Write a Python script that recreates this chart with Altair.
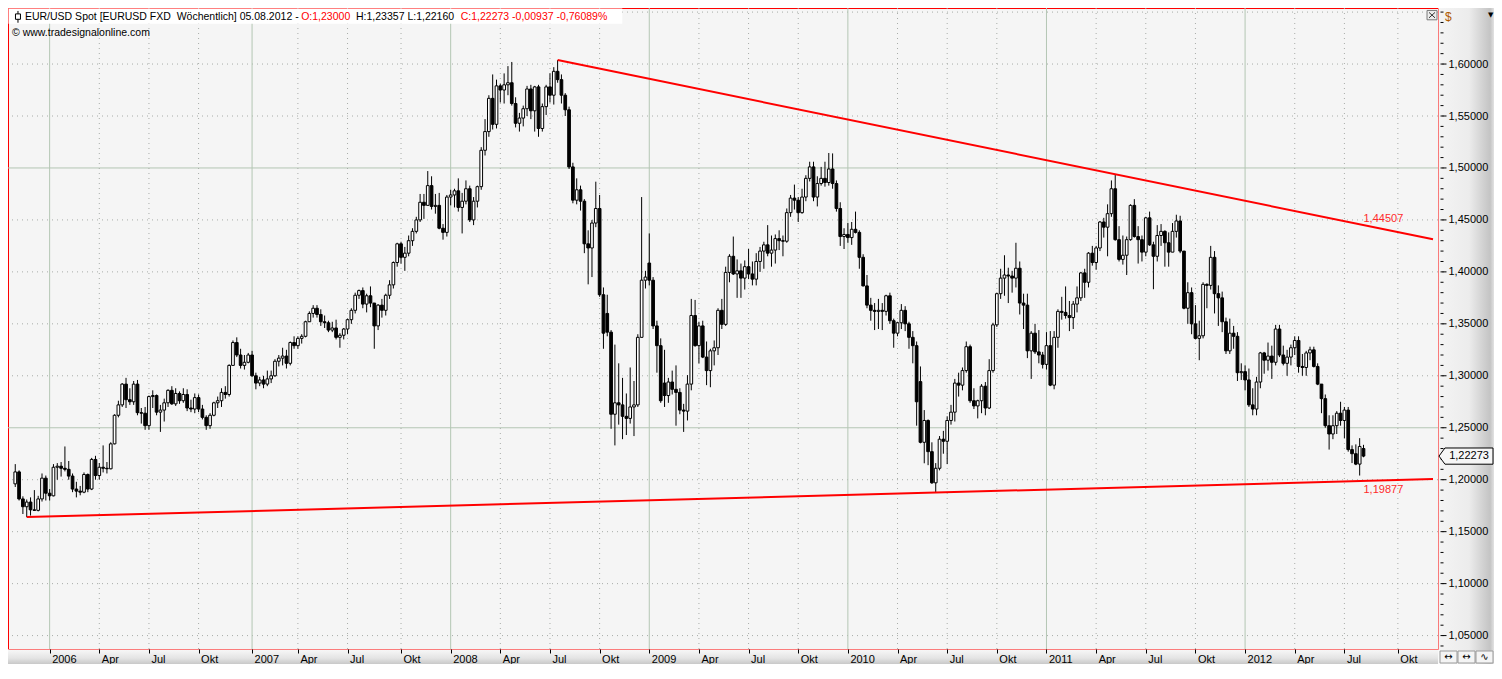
import altair as alt
import pandas as pd
import numpy as np

# ---------------- data (weekly EUR/USD bars, labelled by Sunday) ----------------
FIRST_BAR = "2005-10-30"
FIRST_OPEN = 1.1960

close_2005 = [1.2075, 1.1815, 1.1740, 1.1785, 1.1710, 1.1705, 1.1815, 1.2015, 1.1870]
high_2005 = [1.2150, 1.2090, 1.1840, 1.1810, 1.1830, 1.1900, 1.1845, 1.2060, 1.2040]
low_2005 = [1.1930, 1.1800, 1.1670, 1.1640, 1.1655, 1.1700, 1.1695, 1.1790, 1.1800]

close_2006 = [1.1845, 1.2120, 1.2130, 1.2110, 1.2100, 1.2035, 1.1910, 1.1890, 1.1880, 1.2050,
              1.1910, 1.2195, 1.2040, 1.2120, 1.2110, 1.2105, 1.2345, 1.2620, 1.2720, 1.2920,
              1.2770, 1.2750, 1.2920, 1.2645, 1.2640, 1.2520, 1.2800, 1.2810, 1.2650, 1.2670,
              1.2740, 1.2860, 1.2730, 1.2830, 1.2760, 1.2820, 1.2690, 1.2680, 1.2790, 1.2680,
              1.2600, 1.2520, 1.2620, 1.2740, 1.2760, 1.2840, 1.2820, 1.3100, 1.3320, 1.3200,
              1.3100, 1.3130, 1.3200]
high_2006 = [1.1910, 1.2150, 1.2160, 1.2170, 1.2320, 1.2180, 1.2060, 1.1980, 1.1940, 1.2070,
             1.2060, 1.2210, 1.2230, 1.2160, 1.2330, 1.2170, 1.2360, 1.2630, 1.2760, 1.2930,
             1.2980, 1.2880, 1.2950, 1.2960, 1.2690, 1.2700, 1.2810, 1.2860, 1.2820, 1.2720,
             1.2780, 1.2870, 1.2900, 1.2880, 1.2850, 1.2880, 1.2870, 1.2770, 1.2830, 1.2820,
             1.2720, 1.2620, 1.2640, 1.2750, 1.2800, 1.2880, 1.2900, 1.3110, 1.3340, 1.3370,
             1.3260, 1.3200, 1.3220]
low_2006 = [1.1800, 1.1840, 1.2000, 1.2030, 1.2080, 1.2000, 1.1880, 1.1830, 1.1850, 1.1870,
            1.1880, 1.1900, 1.2000, 1.2000, 1.2070, 1.2060, 1.2100, 1.2340, 1.2600, 1.2700,
            1.2690, 1.2720, 1.2720, 1.2620, 1.2540, 1.2480, 1.2480, 1.2690, 1.2620, 1.2460,
            1.2560, 1.2700, 1.2720, 1.2710, 1.2730, 1.2740, 1.2660, 1.2650, 1.2640, 1.2650,
            1.2580, 1.2480, 1.2490, 1.2610, 1.2690, 1.2700, 1.2780, 1.2800, 1.3100, 1.3180,
            1.3070, 1.3060, 1.3120]

close_2007 = [1.3000, 1.2930, 1.2960, 1.2920, 1.2970, 1.3000, 1.3140, 1.3170, 1.3190, 1.3120,
              1.3320, 1.3290, 1.3360, 1.3380, 1.3520, 1.3600, 1.3650, 1.3590, 1.3520, 1.3510,
              1.3440, 1.3460, 1.3370, 1.3390, 1.3450, 1.3540, 1.3630, 1.3775, 1.3820, 1.3690,
              1.3770, 1.3700, 1.3480, 1.3680, 1.3630, 1.3775, 1.3875, 1.4090, 1.4270, 1.4140,
              1.4180, 1.4300, 1.4390, 1.4500, 1.4670, 1.4640, 1.4830, 1.4630, 1.4640, 1.4420,
              1.4380, 1.4720]
high_2007 = [1.3240, 1.3030, 1.2990, 1.3000, 1.3050, 1.3050, 1.3160, 1.3200, 1.3270, 1.3250,
             1.3330, 1.3380, 1.3380, 1.3400, 1.3530, 1.3620, 1.3680, 1.3680, 1.3640, 1.3580,
             1.3530, 1.3520, 1.3540, 1.3410, 1.3460, 1.3550, 1.3650, 1.3800, 1.3830, 1.3850,
             1.3790, 1.3860, 1.3700, 1.3690, 1.3740, 1.3790, 1.3920, 1.4100, 1.4280, 1.4290,
             1.4240, 1.4350, 1.4420, 1.4530, 1.4750, 1.4750, 1.4970, 1.4920, 1.4750, 1.4760,
             1.4460, 1.4740]
low_2007 = [1.2990, 1.2870, 1.2900, 1.2880, 1.2900, 1.2930, 1.2990, 1.3090, 1.3100, 1.3070,
            1.3100, 1.3260, 1.3260, 1.3310, 1.3370, 1.3520, 1.3560, 1.3560, 1.3480, 1.3460,
            1.3420, 1.3420, 1.3350, 1.3270, 1.3350, 1.3400, 1.3500, 1.3600, 1.3740, 1.3650,
            1.3610, 1.3660, 1.3260, 1.3440, 1.3560, 1.3580, 1.3740, 1.3840, 1.4050, 1.4080,
            1.4010, 1.4150, 1.4250, 1.4370, 1.4480, 1.4510, 1.4640, 1.4600, 1.4560, 1.4410,
            1.4310, 1.4340]

close_2008 = [1.4740, 1.4780, 1.4620, 1.4680, 1.4800, 1.4500, 1.4680, 1.4820, 1.5170, 1.5350,
              1.5670, 1.5420, 1.5790, 1.5750, 1.5800, 1.5820, 1.5620, 1.5430, 1.5480, 1.5570,
              1.5760, 1.5550, 1.5780, 1.5380, 1.5590, 1.5780, 1.5700, 1.5930, 1.5850, 1.5700,
              1.5560, 1.5010, 1.4690, 1.4790, 1.4680, 1.4270, 1.4230, 1.4470, 1.4610, 1.3780,
              1.3410, 1.3420, 1.2630, 1.2740, 1.2720, 1.2610, 1.2590, 1.2700, 1.2720, 1.3370,
              1.3920, 1.3950]
high_2008 = [1.4790, 1.4800, 1.4900, 1.4760, 1.4880, 1.4830, 1.4720, 1.4830, 1.5200, 1.5470,
             1.5700, 1.5900, 1.5850, 1.5810, 1.5910, 1.5980, 1.6020, 1.5680, 1.5530, 1.5600,
             1.5790, 1.5800, 1.5790, 1.5800, 1.5620, 1.5800, 1.5910, 1.5970, 1.6038, 1.5900,
             1.5720, 1.5590, 1.5050, 1.4900, 1.4830, 1.4700, 1.4400, 1.4500, 1.4868, 1.4740,
             1.3850, 1.3780, 1.3440, 1.3300, 1.3120, 1.2980, 1.2830, 1.3080, 1.2950, 1.3400,
             1.4720, 1.4010]
low_2008 = [1.4640, 1.4620, 1.4580, 1.4370, 1.4650, 1.4480, 1.4450, 1.4620, 1.4790, 1.5120,
            1.5300, 1.5370, 1.5380, 1.5630, 1.5620, 1.5700, 1.5600, 1.5390, 1.5350, 1.5400,
            1.5500, 1.5470, 1.5350, 1.5300, 1.5350, 1.5510, 1.5630, 1.5610, 1.5820, 1.5620,
            1.5500, 1.4990, 1.4660, 1.4650, 1.4590, 1.4180, 1.3880, 1.3950, 1.4430, 1.3760,
            1.3260, 1.3380, 1.2490, 1.2330, 1.2530, 1.2390, 1.2430, 1.2540, 1.2420, 1.2700,
            1.3380, 1.3840]

close_2009 = [1.3920, 1.3480, 1.3290, 1.2760, 1.2810, 1.2940, 1.2870, 1.2840, 1.2670, 1.2660,
              1.2920, 1.3580, 1.3290, 1.3480, 1.3180, 1.3050, 1.3240, 1.3270, 1.3630, 1.3495,
              1.3995, 1.4150, 1.3980, 1.4010, 1.3940, 1.4050, 1.3980, 1.3930, 1.4100, 1.4200,
              1.4260, 1.4180, 1.4210, 1.4320, 1.4300, 1.4295, 1.4570, 1.4710, 1.4690, 1.4570,
              1.4720, 1.4900, 1.5010, 1.4720, 1.4850, 1.4900, 1.4860, 1.4990, 1.4850, 1.4610,
              1.4340, 1.4360]
high_2009 = [1.4370, 1.3950, 1.3530, 1.3360, 1.3250, 1.2980, 1.3050, 1.3100, 1.2880, 1.2730,
             1.3007, 1.3740, 1.3730, 1.3520, 1.3530, 1.3330, 1.3260, 1.3340, 1.3650, 1.3740,
             1.4050, 1.4170, 1.4340, 1.4120, 1.4080, 1.4110, 1.4220, 1.4100, 1.4180, 1.4240,
             1.4290, 1.4450, 1.4350, 1.4360, 1.4400, 1.4350, 1.4610, 1.4740, 1.4840, 1.4720,
             1.4800, 1.4930, 1.5060, 1.5060, 1.4920, 1.5010, 1.5060, 1.5144, 1.5140, 1.4880,
             1.4670, 1.4420]
low_2009 = [1.3870, 1.3450, 1.3030, 1.2740, 1.2700, 1.2740, 1.2820, 1.2520, 1.2630, 1.2460,
            1.2570, 1.2860, 1.3280, 1.3120, 1.3170, 1.2910, 1.2890, 1.3100, 1.3200, 1.3450,
            1.3480, 1.3900, 1.3970, 1.3750, 1.3750, 1.3830, 1.3930, 1.3870, 1.3870, 1.4000,
            1.4030, 1.4150, 1.4050, 1.4080, 1.4210, 1.4150, 1.4280, 1.4530, 1.4600, 1.4480,
            1.4560, 1.4680, 1.4870, 1.4680, 1.4630, 1.4830, 1.4820, 1.4830, 1.4800, 1.4580,
            1.4250, 1.4220]

close_2010 = [1.4330, 1.4410, 1.4380, 1.4140, 1.3865, 1.3680, 1.3630, 1.3620, 1.3630, 1.3620,
              1.3770, 1.3530, 1.3410, 1.3510, 1.3630, 1.3500, 1.3370, 1.3290, 1.2750, 1.2360,
              1.2570, 1.2270, 1.1970, 1.2110, 1.2390, 1.2370, 1.2570, 1.2650, 1.2930, 1.2910,
              1.3050, 1.3280, 1.2760, 1.2710, 1.2760, 1.2900, 1.2690, 1.3050, 1.3490, 1.3790,
              1.3940, 1.3970, 1.3960, 1.3940, 1.4035, 1.3700, 1.3680, 1.3240, 1.3410, 1.3230,
              1.3200, 1.3110]
high_2010 = [1.4470, 1.4480, 1.4580, 1.4400, 1.4170, 1.3970, 1.3750, 1.3700, 1.3740, 1.3700,
             1.3780, 1.3800, 1.3550, 1.3520, 1.3690, 1.3670, 1.3520, 1.3430, 1.3330, 1.3090,
             1.2670, 1.2580, 1.2360, 1.2160, 1.2420, 1.2470, 1.2610, 1.2720, 1.2970, 1.3030,
             1.3080, 1.3330, 1.3300, 1.2880, 1.2770, 1.2920, 1.2940, 1.3160, 1.3510, 1.3800,
             1.4030, 1.4160, 1.4040, 1.4010, 1.4280, 1.4100, 1.3790, 1.3790, 1.3430, 1.3500,
             1.3440, 1.3230]
low_2010 = [1.4280, 1.4260, 1.4370, 1.4030, 1.3860, 1.3650, 1.3530, 1.3440, 1.3450, 1.3440,
            1.3580, 1.3500, 1.3270, 1.3380, 1.3450, 1.3430, 1.3260, 1.3120, 1.2520, 1.2350,
            1.2158, 1.2140, 1.1960, 1.1876, 1.2090, 1.2250, 1.2150, 1.2530, 1.2560, 1.2800,
            1.2860, 1.3030, 1.2740, 1.2680, 1.2590, 1.2640, 1.2620, 1.2680, 1.3030, 1.3470,
            1.3740, 1.3770, 1.3700, 1.3800, 1.3850, 1.3590, 1.3450, 1.3170, 1.2970, 1.3210,
            1.3120, 1.3070]

close_2011 = [1.3290, 1.2910, 1.3370, 1.3620, 1.3610, 1.3580, 1.3560, 1.3690, 1.3750, 1.3990,
              1.3900, 1.4180, 1.4090, 1.4230, 1.4480, 1.4430, 1.4560, 1.4800, 1.4310, 1.4120,
              1.4160, 1.4310, 1.4640, 1.4340, 1.4310, 1.4190, 1.4520, 1.4260, 1.4150, 1.4350,
              1.4390, 1.4280, 1.4190, 1.4390, 1.4490, 1.4200, 1.3650, 1.3800, 1.3500, 1.3360,
              1.3385, 1.3880, 1.3870, 1.4140, 1.3790, 1.3750, 1.3520, 1.3240, 1.3410, 1.3380,
              1.3030, 1.3040]
high_2011 = [1.3420, 1.3430, 1.3430, 1.3640, 1.3760, 1.3860, 1.3720, 1.3720, 1.3860, 1.4000,
             1.4030, 1.4190, 1.4250, 1.4250, 1.4490, 1.4520, 1.4650, 1.4880, 1.4940, 1.4440,
             1.4350, 1.4340, 1.4650, 1.4700, 1.4440, 1.4350, 1.4530, 1.4580, 1.4290, 1.4450,
             1.4460, 1.4400, 1.4380, 1.4470, 1.4550, 1.4540, 1.4200, 1.3900, 1.3850, 1.3680,
             1.3530, 1.3900, 1.3890, 1.4250, 1.4200, 1.3870, 1.3810, 1.3560, 1.3550, 1.3480,
             1.3420, 1.3120]
low_2011 = [1.3060, 1.2900, 1.2870, 1.3270, 1.3540, 1.3550, 1.3430, 1.3450, 1.3610, 1.3720,
            1.3750, 1.3850, 1.4060, 1.4020, 1.4200, 1.4330, 1.4150, 1.4530, 1.4300, 1.4100,
            1.4070, 1.3970, 1.4300, 1.4330, 1.4080, 1.4100, 1.4150, 1.4250, 1.3833, 1.4100,
            1.4250, 1.4050, 1.4050, 1.4200, 1.4330, 1.4180, 1.3640, 1.3500, 1.3400, 1.3350,
            1.3150, 1.3360, 1.3650, 1.3830, 1.3600, 1.3480, 1.3420, 1.3210, 1.3210, 1.3260,
            1.2950, 1.2960]

close_2012 = [1.2960, 1.2720, 1.2680, 1.2940, 1.3220, 1.3150, 1.3190, 1.3130, 1.3450, 1.3200,
              1.3120, 1.3180, 1.3270, 1.3340, 1.3090, 1.3080, 1.3220, 1.3250, 1.3090, 1.2920,
              1.2780, 1.2520, 1.2440, 1.2520, 1.2640, 1.2570, 1.2670, 1.2290, 1.2250, 1.2150,
              1.2320, 1.22273]
high_2012 = [1.3100, 1.3070, 1.2880, 1.2990, 1.3230, 1.3230, 1.3320, 1.3290, 1.3490, 1.3490,
             1.3290, 1.3250, 1.3300, 1.3380, 1.3380, 1.3210, 1.3240, 1.3280, 1.3280, 1.3120,
             1.2900, 1.2820, 1.2620, 1.2620, 1.2660, 1.2750, 1.2700, 1.2700, 1.2330, 1.2340,
             1.2400, 1.23357]
low_2012 = [1.2860, 1.2700, 1.2620, 1.2620, 1.2880, 1.3020, 1.3050, 1.2970, 1.3100, 1.3180,
            1.3100, 1.3000, 1.3100, 1.3200, 1.3030, 1.3000, 1.3000, 1.3150, 1.3080, 1.2910,
            1.2640, 1.2500, 1.2290, 1.2390, 1.2440, 1.2520, 1.2400, 1.2270, 1.2160, 1.2140,
            1.2040, 1.22160]

# weekly opens that gapped away from the prior close
gap_opens = {"2008-10-19": 1.3600, "2009-01-04": 1.4085, "2009-02-01": 1.2930,
             "2010-05-16": 1.2944, "2012-08-05": 1.2300}

# trend lines (anchor point and value shown at the last bar)
upper_anchor = ("2008-07-20", 1.6038)
upper_last = 1.44507
lower_anchor = ("2005-11-20", 1.1640)
lower_last = 1.19877
last_bar = "2012-08-05"
last_close = 1.22273

header_black1 = "EUR/USD Spot [EURUSD FXD\u00a0 Wöchentlich] 05.08.2012 -"
header_red1 = "O:1,23000"
header_black2 = "H:1,23357 L:1,22160"
header_red2 = "C:1,22273 -0,00937 -0,76089%"
copyright_text = "© www.tradesignalonline.com"

# ---------------- assemble ----------------
closes = (close_2005 + close_2006 + close_2007 + close_2008 + close_2009 +
          close_2010 + close_2011 + close_2012)
highs = (high_2005 + high_2006 + high_2007 + high_2008 + high_2009 +
         high_2010 + high_2011 + high_2012)
lows = (low_2005 + low_2006 + low_2007 + low_2008 + low_2009 +
        low_2010 + low_2011 + low_2012)
dates = pd.date_range(FIRST_BAR, periods=len(closes), freq="7D")
opens = [FIRST_OPEN] + closes[:-1]
for d, o in gap_opens.items():
    opens[dates.get_loc(pd.Timestamp(d))] = o

df = pd.DataFrame({"date": dates.strftime("%Y-%m-%d"), "open": opens,
                   "high": highs, "low": lows, "close": closes})
df["high"] = df[["high", "open", "close"]].max(axis=1)
df["low"] = df[["low", "open", "close"]].min(axis=1)
df["fill"] = np.where(df["close"] < df["open"], "#000000", "#ffffff")

def ms(ts):
    return int(pd.Timestamp(ts).value // 10**6)

# ---------------- layout ----------------
W, H = 1430, 641
PAD_R, PAD_B = 56, 15
sx, sy = W / 1434.0, H / 652.0
def px(x):
    return (x - 4) * sx
def py(y):
    return (y - 4) * sy

BASE = pd.Timestamp("2006-01-01")
dom_lo = BASE + pd.Timedelta(days=7 * -9.593)
dom_hi = BASE + pd.Timedelta(days=7 * 362.2)
xscale = alt.Scale(type="utc", domain=[ms(dom_lo), ms(dom_hi)])
yscale = alt.Scale(domain=[1.03709, 1.65393], nice=False, zero=False)

FONT = "Liberation Sans"

def first_sunday(y, m):
    d = pd.Timestamp(year=y, month=m, day=1)
    return d + pd.Timedelta(days=(6 - d.weekday()) % 7)

tick_dates = [first_sunday(y, m) for y in range(2006, 2013) for m in (1, 4, 7, 10)]
tick_ms = [ms(t) for t in tick_dates]

xaxis = alt.Axis(values=tick_ms, title=None, grid=False, domain=False,
                 ticks=True, tickSize=4, tickColor="#000000", tickWidth=1,
                 labelAlign="left", labelOffset=2, labelBaseline="top", labelPadding=0,
                 labelFont=FONT, labelFontSize=11, labelColor="#000000",
                 labelFlush=False, labelOverlap=False, zindex=1,
                 labelExpr="utcmonth(datum.value) == 0 ? utcFormat(datum.value, '%Y') : "
                           "(utcmonth(datum.value) == 3 ? 'Apr' : "
                           "(utcmonth(datum.value) == 6 ? 'Jul' : 'Okt'))")
major_levels = [round(1.05 + 0.05 * i, 2) for i in range(12)]
yaxis = alt.Axis(orient="right", values=major_levels, title=None, grid=False,
                 domain=False, ticks=False, labelPadding=10, labelFont=FONT,
                 labelFontSize=11, labelColor="#000000", labelOverlap=False, zindex=1,
                 labelExpr="replace(format(datum.value, '.5f'), '.', ',')")

def X(field="date"):
    return alt.X(f"{field}:T", scale=xscale, axis=xaxis)

def Y(field):
    return alt.Y(f"{field}:Q", scale=yscale, axis=yaxis)

one = pd.DataFrame({"a": [0]})

# panels (axis backgrounds)
right_panel = alt.Chart(one).mark_rect(
    fill=alt.Gradient(gradient="linear", x1=0, x2=1, y1=0, y2=0,
                      stops=[alt.GradientStop(color="#f4f4f4", offset=0),
                             alt.GradientStop(color="#ececec", offset=0.55),
                             alt.GradientStop(color="#c4c4c4", offset=0.93),
                             alt.GradientStop(color="#e2e2e2", offset=1)])
).encode(x=alt.value(W + 0.5), x2=alt.value(W + PAD_R), y=alt.value(0), y2=alt.value(H + PAD_B))
bottom_panel = alt.Chart(one).mark_rect(
    fill=alt.Gradient(gradient="linear", x1=0, x2=0, y1=0, y2=1,
                      stops=[alt.GradientStop(color="#f8f8f8", offset=0),
                             alt.GradientStop(color="#e4e4e4", offset=0.6),
                             alt.GradientStop(color="#c8c8c8", offset=1)])
).encode(x=alt.value(0), x2=alt.value(W), y=alt.value(H + 0.5), y2=alt.value(H + PAD_B))

# grid
h_levels = [round(1.05 + 0.05 * i, 2) for i in range(13)]
hgrid = pd.DataFrame({"level": h_levels})
hgrid["solid"] = hgrid["level"].isin([1.25, 1.50])
vgrid = pd.DataFrame({"date": [t.strftime("%Y-%m-%d") for t in tick_dates],
                      "solid": [t.month == 1 for t in tick_dates]})

h_dot = alt.Chart(hgrid[~hgrid.solid]).mark_rule(color="#a8aca8", strokeWidth=1, strokeDash=[1, 4]).encode(y=Y("level"))
h_sol = alt.Chart(hgrid[hgrid.solid]).mark_rule(color="#b4c6b4", strokeWidth=1).encode(y=Y("level"))
v_dot = alt.Chart(vgrid[~vgrid.solid]).mark_rule(color="#a8aca8", strokeWidth=1, strokeDash=[1, 4]).encode(x=X())
v_sol = alt.Chart(vgrid[vgrid.solid]).mark_rule(color="#b4c6b4", strokeWidth=1).encode(x=X())

# candles
wicks = alt.Chart(df).mark_rule(color="#000000", strokeWidth=1, clip=True).encode(
    x=X(), y=Y("low"), y2="high:Q")
bodies = alt.Chart(df).mark_bar(size=2.7, stroke="#000000", strokeWidth=1, clip=True).encode(
    x=X(), y=Y("open"), y2="close:Q", color=alt.Color("fill:N", scale=None))

# trend lines
def trend(anchor, last_val):
    a_date = pd.Timestamp(anchor[0])
    l_date = pd.Timestamp(last_bar)
    slope = (last_val - anchor[1]) / ((l_date - a_date).days)
    end_val = anchor[1] + slope * (dom_hi - a_date).total_seconds() / 86400.0
    return pd.DataFrame({"date": [ms(a_date), ms(dom_hi)], "v": [anchor[1], end_val]})

up_df = trend(upper_anchor, upper_last)
lo_df = trend(lower_anchor, lower_last)
up_line = alt.Chart(up_df).mark_line(color="#ff0000", strokeWidth=2, clip=True).encode(x=X(), y=Y("v"))
lo_line = alt.Chart(lo_df).mark_line(color="#ff0000", strokeWidth=2, clip=True).encode(x=X(), y=Y("v"))

lab_up = alt.Chart(pd.DataFrame({"date": [last_bar], "v": [upper_last], "t": ["1,44507"]})).mark_text(
    align="left", baseline="alphabetic", dy=-3, font=FONT, fontSize=11, color="#ff2a2a"
).encode(x=X(), y=Y("v"), text="t:N")
lab_lo = alt.Chart(pd.DataFrame({"date": [last_bar], "v": [lower_last], "t": ["1,19877"]})).mark_text(
    align="left", baseline="top", dy=3, font=FONT, fontSize=11, color="#ff2a2a"
).encode(x=X(), y=Y("v"), text="t:N")

# right axis ticks
minor_df = pd.DataFrame({"level": [i / 100 for i in range(104, 166)]})
major_df = pd.DataFrame({"level": major_levels})
minor_ticks = alt.Chart(minor_df).mark_rule(color="#000000", strokeWidth=1).encode(
    y=Y("level"), x=alt.value(W + 2.5), x2=alt.value(W + 5.5))
major_ticks = alt.Chart(major_df).mark_rule(color="#000000", strokeWidth=1).encode(
    y=Y("level"), x=alt.value(W + 4.5), x2=alt.value(W + 8.5))

# last price callout
CALLOUT = "M -1 0 L -0.78 -0.3 L 1 -0.3 L 1 0.3 L -0.78 0.3 Z"
callout_df = pd.DataFrame({"v": [last_close], "t": ["1,22273"]})
callout = alt.Chart(callout_df).mark_point(
    shape=CALLOUT, size=54 * 54, filled=True, fill="#f6f6f6", stroke="#000000",
    strokeWidth=1, opacity=1
).encode(y=Y("v"), x=alt.value(W + 28))
callout_txt = alt.Chart(callout_df).mark_text(
    font=FONT, fontSize=11, color="#000000", align="center", baseline="middle"
).encode(y=Y("v"), x=alt.value(W + 31), text="t:N")

# header
def txt(s, x, y, color="#000000", size=10.5, align="left", font=FONT):
    return alt.Chart(one).mark_text(text=s, align=align, baseline="middle", font=font,
                                    fontSize=size, color=color).encode(
        x=alt.value(x), y=alt.value(y))

header_bg = alt.Chart(one).mark_rect(fill="#ffffff").encode(
    x=alt.value(0.5), x2=alt.value(px(620)), y=alt.value(0.5), y2=alt.value(py(20)))
icon_rule = alt.Chart(one).mark_rule(color="#000000", strokeWidth=1).encode(
    x=alt.value(px(14)), y=alt.value(py(7)), y2=alt.value(py(19)))
icon_box = alt.Chart(one).mark_rect(fill="#ffffff", stroke="#000000", strokeWidth=1).encode(
    x=alt.value(px(11.5)), x2=alt.value(px(16.5)), y=alt.value(py(10)), y2=alt.value(py(15.5)))
hy = py(13.5)
h1 = txt(header_black1, px(21), hy)
h2 = txt(header_red1, px(298), hy, color="#ff0000")
h3 = txt(header_black2, px(353), hy)
h4 = txt(header_red2, px(458), hy, color="#ff0000")
h5 = txt(copyright_text, px(8), py(29.3))

# close button
close_box = alt.Chart(one).mark_rect(fill="#ececec", stroke="#7a7a7a", strokeWidth=1).encode(
    x=alt.value(px(1427)), x2=alt.value(px(1437)), y=alt.value(py(6.5)), y2=alt.value(py(16)))
cx1 = alt.Chart(one).mark_rule(color="#333333", strokeWidth=1).encode(
    x=alt.value(px(1429)), x2=alt.value(px(1435)), y=alt.value(py(8.5)), y2=alt.value(py(14)))
cx2 = alt.Chart(one).mark_rule(color="#333333", strokeWidth=1).encode(
    x=alt.value(px(1435)), x2=alt.value(px(1429)), y=alt.value(py(8.5)), y2=alt.value(py(14)))

dollar = txt("$", W + 7, py(13), color="#b05a00", size=12)
tri = txt("▼", W + 50, py(11), color="#000000", size=7, font="DejaVu Sans")

# bottom-right buttons
btns = []
for i, g in enumerate(["↔", "↔", "∿"]):
    x0 = W + 2 + 18 * i
    btns.append(alt.Chart(one).mark_rect(fill="#f4f4f4", stroke="#9a9a9a", strokeWidth=1).encode(
        x=alt.value(x0), x2=alt.value(x0 + 17), y=alt.value(H + 2), y2=alt.value(H + 14)))
    btns.append(txt(g, x0 + 8.5, H + 8, size=10, align="center", font="DejaVu Sans"))

chart = alt.layer(
    right_panel, bottom_panel,
    h_dot, h_sol, v_dot, v_sol,
    wicks, bodies,
    up_line, lo_line, lab_up, lab_lo,
    minor_ticks, major_ticks, callout, callout_txt,
    header_bg, icon_rule, icon_box, h1, h2, h3, h4, h5,
    close_box, cx1, cx2, dollar, tri, *btns
).properties(
    width=W, height=H,
    autosize=alt.AutoSizeParams(type="none"),
    padding={"left": 0, "top": 0, "right": PAD_R, "bottom": PAD_B},
    background="#ffffff",
).configure_view(
    fill="#f5f5f5", stroke="#ff0000", strokeWidth=1
)

chart.save("out.html", embed_options={"renderer": "svg", "actions": False})
